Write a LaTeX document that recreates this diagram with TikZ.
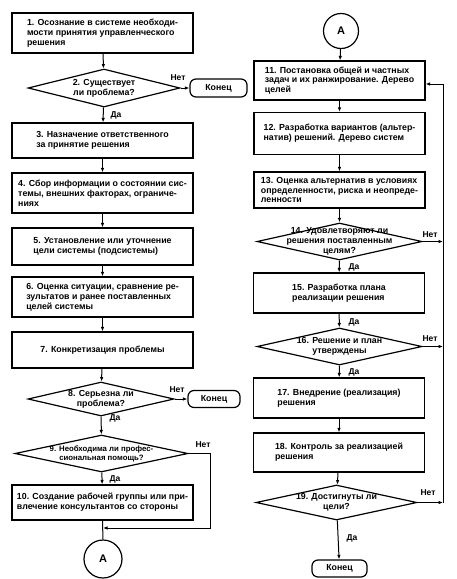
\documentclass[tikz,border=0pt]{standalone}
\usepackage{fontspec}
\setmainfont{Liberation Sans}
\usetikzlibrary{shapes.geometric,arrows.meta}
\begin{document}
\begin{tikzpicture}[x=1pt,y=-1pt,
  txt/.style={font=\bfseries\fontsize{8.8}{9.8}\selectfont},
  box/.style={draw, line width=1.2pt, minimum width=181pt, align=left, inner sep=2pt, txt},
  rbox/.style={box, minimum width=171pt},
  dia/.style={draw, diamond, line width=1.2pt, inner sep=0pt},
  dlab/.style={align=center, inner sep=0pt, txt},
  endn/.style={draw, rounded corners=6pt, line width=1.2pt, inner sep=0pt, txt},
  con/.style={draw, circle, line width=1.2pt, inner sep=0pt, font=\bfseries\fontsize{11}{13}\selectfont},
  arr/.style={-{Latex[length=4.5pt,width=3.5pt]}, line width=1pt},
  ln/.style={line width=1pt},
  lbl/.style={inner sep=0pt, font=\bfseries\fontsize{8.5}{9}\selectfont}]
\useasboundingbox (0,0) rectangle (456,579);
% left column
\node[box, minimum height=40pt] (b1) at (102.5,33) {1. Осознание в системе необходи-\\мости принятия управленческого\\решения};
\node[dia, minimum width=152pt, minimum height=38pt, label={[dlab]center:2. Существует\\ли проблема?}] (d2) at (104,88) {};
\node[endn, minimum width=57pt, minimum height=18pt] (k1) at (218.5,88) {Конец};
\node[box, minimum height=35pt] (b3) at (102.5,140.5) {3. Назначение ответственного\\за принятие решения};
\node[box, minimum height=40pt] (b4) at (102.5,193) {4. Сбор информации о состоянии сис-\\темы, внешних факторах, ограниче-\\ниях};
\node[box, minimum height=37pt] (b5) at (102.5,246.5) {5. Установление или уточнение\\цели системы (подсистемы)};
\node[box, minimum height=40pt] (b6) at (102.5,297) {6. Оценка ситуации, сравнение ре-\\зультатов и ранее поставленных\\целей системы};
\node[box, minimum height=36pt] (b7) at (102.5,350) {7. Конкретизация проблемы};
\node[dia, minimum width=146pt, minimum height=34pt, label={[dlab]center:8. Серьезна ли\\проблема?}] (d8) at (101,399) {};
\node[endn, minimum width=52pt, minimum height=17pt] (k2) at (214,399) {Конец};
\node[dia, minimum width=173pt, minimum height=37pt, label={[dlab, font=\bfseries\fontsize{7.8}{9}\selectfont]center:9. Необходима ли профес-\\сиональная помощь?}] (d9) at (101.5,453.5) {};
\node[box, minimum height=35pt] (b10) at (102.5,502.5) {10. Создание рабочей группы или при-\\влечение консультантов со стороны};
\node[con, minimum size=38pt] (A1) at (103,559) {A};
\coordinate (j9) at (210,528);
\coordinate (jn) at (103,528);
% right column
\node[con, minimum size=35pt] (A2) at (341,31) {A};
\node[rbox, minimum height=39pt] (b11) at (339.5,80.5) {11. Постановка общей и частных\\задач и их ранжирование. Дерево\\целей};
\node[rbox, minimum height=42pt] (b12) at (339.5,133.5) {12. Разработка вариантов (альтер-\\натив) решений. Дерево систем};
\node[rbox, minimum height=36pt] (b13) at (339.5,190) {13. Оценка альтернатив в условиях\\определенности, риска и неопреде-\\ленности};
\node[dia, minimum width=165pt, minimum height=37pt, label={[dlab]center:14. Удовлетворяют ли\\решения поставленным\\целям?}] (d14) at (339.5,241.5) {};
\node[rbox, minimum height=40pt] (b15) at (339,293) {15. Разработка плана\\реализации решения};
\node[dia, minimum width=165pt, minimum height=37pt, label={[dlab]center:16. Решение и план\\утверждены}] (d16) at (339.5,346.5) {};
\node[rbox, minimum height=40pt] (b17) at (339,398) {17. Внедрение (реализация)\\решения};
\node[rbox, minimum height=39pt] (b18) at (339,452.5) {18. Контроль за реализацией\\решения};
\node[dia, minimum width=161pt, minimum height=35pt, label={[dlab]center:19. Достигнуты ли\\цели?}] (d19) at (336.5,502.5) {};
\node[endn, minimum width=55pt, minimum height=17pt] (k3) at (339.5,568.5) {Конец};
\coordinate (fb19) at (443,502.5);
\coordinate (fb16) at (443,346.5);
\coordinate (fb14) at (443,241.5);
\coordinate (fbtop) at (443,84);
% connectors left
\draw[arr] (b1) -- (d2);
\draw[arr] (d2.east) -- (k1.west);
\draw[arr] (d2) -- (b3);
\draw[arr] (b3) -- (b4);
\draw[arr] (b4) -- (b5);
\draw[arr] (b5) -- (b6);
\draw[arr] (b6) -- (b7);
\draw[arr] (b7) -- (d8);
\draw[arr] (d8.east) -- (k2.west);
\draw[arr] (d8) -- (d9);
\draw[arr] (d9) -- (b10);
\draw[ln] (b10) -- (A1);
\draw[arr] (d9.east) -| (j9) -- (jn);
% connectors right
\draw[arr] (A2) -- (b11);
\draw[arr] (b11) -- (b12);
\draw[arr] (b12) -- (b13);
\draw[arr] (b13) -- (d14);
\draw[arr] (d14) -- (b15);
\draw[arr] (b15) -- (d16);
\draw[arr] (d16) -- (b17);
\draw[arr] (b17) -- (b18);
\draw[arr] (b18) -- (d19);
\draw[arr] (d19) -- (k3);
\draw[arr] (d19.east) -- (fb19);
\draw[arr] (d16.east) -- (fb16);
\draw[arr] (d14.east) -- (fb14);
\draw[ln] (fb19) -- (fbtop);
\draw[arr] (fbtop) -- (b11.east |- fbtop);
% labels
\node[lbl] (n2) at (178,78) {Нет};
\node[lbl] (y2) at (116,115) {Да};
\node[lbl] (n8) at (177,390) {Нет};
\node[lbl] (y8) at (115,418) {Да};
\node[lbl] (n9) at (203,445) {Нет};
\node[lbl] (y9) at (115,479) {Да};
\node[lbl] (n14) at (430,235) {Нет};
\node[lbl] (y14) at (354,267) {Да};
\node[lbl] (y15) at (354,322) {Да};
\node[lbl] (n16) at (430,339) {Нет};
\node[lbl] (y16) at (354,372) {Да};
\node[lbl] (n19) at (428,493) {Нет};
\node[lbl] (y19) at (352,538) {Да};
\end{tikzpicture}
\end{document}
